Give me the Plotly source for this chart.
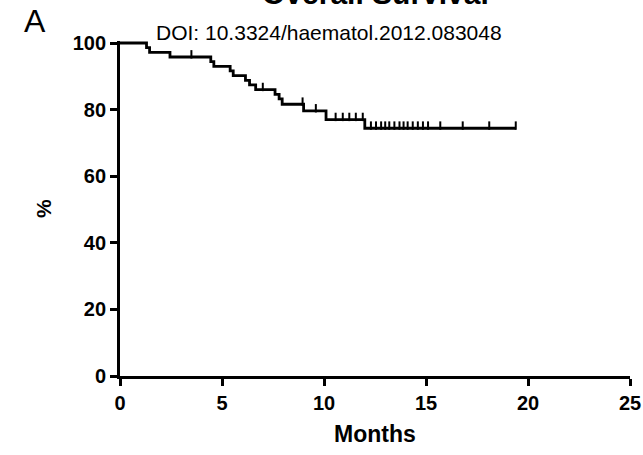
import numpy as np
import plotly.graph_objects as go

# Kaplan-Meier overall survival
event_times = [1.3, 1.45, 2.45, 4.45, 4.6, 5.4, 5.55, 6.15, 6.35, 6.65, 7.6, 7.8, 7.95, 9.0, 10.1, 12.0]
survival = [98.6, 97.2, 95.8, 94.4, 93.0, 91.6, 90.2, 88.8, 87.4, 86.0, 84.6, 83.2, 81.6, 79.6, 77.0, 74.4]
last_followup = 19.4
censor_times = [3.5, 7.0, 8.95, 9.6, 10.57, 10.92, 11.24, 11.56, 11.9,
                12.3, 12.55, 12.8, 13.0, 13.2, 13.45, 13.7, 13.9, 14.1, 14.35,
                14.6, 14.85, 15.1, 15.7, 16.8, 18.1, 19.4]

x_ticks = [0, 5, 10, 15, 20, 25]
y_ticks = [0, 20, 40, 60, 80, 100]

xs = [0] + event_times + [last_followup]
ys = [100] + survival + [survival[-1]]

et = np.array(event_times)
sv = np.array([100] + survival)
cy = [sv[np.searchsorted(et, t, side="right")] for t in censor_times]

fig = go.Figure()
fig.add_trace(go.Scatter(x=xs, y=ys, mode="lines", line=dict(color="black", width=2.8, shape="hv"),
                         showlegend=False, hoverinfo="skip"))
fig.add_trace(go.Scatter(x=censor_times, y=[v + 0.8 for v in cy], mode="markers",
                         marker=dict(symbol="line-ns", size=6, line=dict(color="black", width=2)),
                         showlegend=False, hoverinfo="skip", cliponaxis=False))

tickfont = dict(family="Liberation Sans", size=20, color="black")
fig.update_xaxes(range=[0, 25], tickvals=x_ticks, ticktext=[f"<b>{v}</b>" for v in x_ticks],
                 showline=True, linecolor="black", linewidth=2.8,
                 ticks="outside", ticklen=7, tickwidth=2.5, tickcolor="black", showgrid=False, zeroline=False,
                 tickfont=tickfont, automargin=False,
                 title=dict(text="<b>Months</b>", font=dict(family="Liberation Sans", size=23, color="black"), standoff=13))
fig.update_yaxes(range=[0, 100.6], tickvals=y_ticks, ticktext=[f"<b>{v}</b>" for v in y_ticks],
                 showline=True, linecolor="black", linewidth=2.8,
                 ticks="outside", ticklen=7, tickwidth=2.5, tickcolor="black", showgrid=False, zeroline=False,
                 tickfont=tickfont, automargin=False)

fig.add_annotation(text="<b>%</b>", xref="paper", yref="paper", x=-0.15, y=0.5, xanchor="center", yanchor="middle",
                   textangle=-90, showarrow=False, font=dict(family="Liberation Sans", size=21, color="black"))
fig.add_annotation(text="A", xref="paper", yref="paper", x=-0.167, xanchor="center", y=1.06, yanchor="middle",
                   showarrow=False, font=dict(family="Liberation Sans", size=32, color="black"))
fig.add_annotation(text="DOI: 10.3324/haematol.2012.083048", xref="paper", yref="paper", x=0.41, xanchor="center",
                   y=1.025, yanchor="middle", showarrow=False,
                   font=dict(family="Liberation Sans", size=21, color="black"))
fig.add_annotation(text="<b>Overall Survival</b>", xref="paper", yref="paper", x=0.5, xanchor="center",
                   y=1.142, yanchor="middle", showarrow=False,
                   font=dict(family="Liberation Sans", size=30, color="black"))

fig.update_layout(width=643, height=455, margin=dict(l=120, r=13, t=41, b=79),
                  plot_bgcolor="white", paper_bgcolor="white")
fig.write_html("out.html")
